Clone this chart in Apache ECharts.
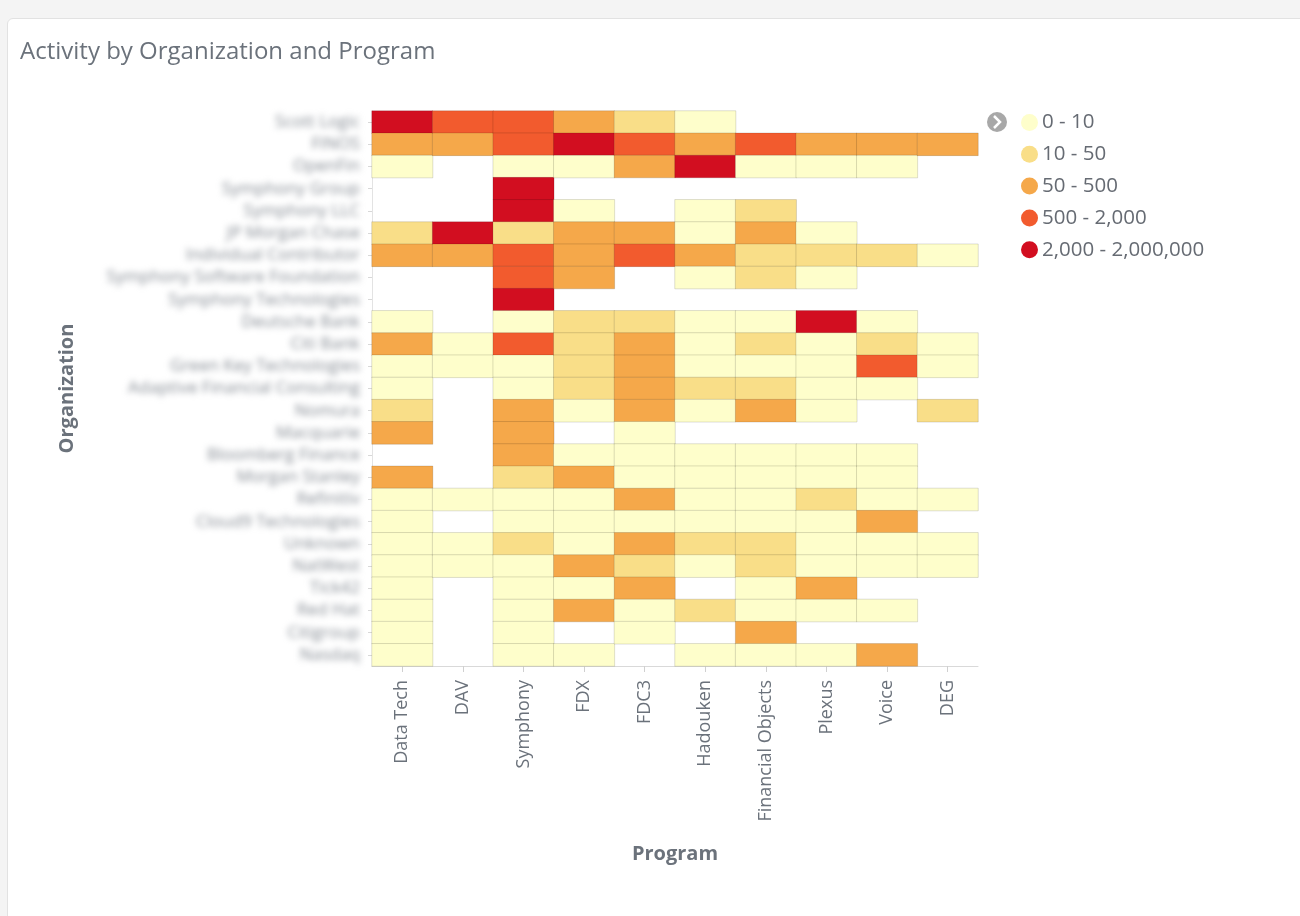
<!DOCTYPE html>
<html>
<head>
<meta charset="utf-8">
<script src="https://cdn.jsdelivr.net/npm/echarts@6/dist/echarts.min.js"></script>
<style>
  html, body { margin: 0; padding: 0; width: 1300px; height: 916px; overflow: hidden; background: #f4f4f4; }
  #card { position: absolute; left: 7px; top: 18px; width: 1320px; height: 930px; background: #fff; border: 1px solid #e2e2e2; border-radius: 6px; }
  #chart { position: absolute; left: 0; top: 0; width: 1300px; height: 916px; }
  #labels { position: absolute; left: 0; top: 0; width: 1300px; height: 916px; filter: blur(3px); pointer-events: none; }
</style>
</head>
<body>
<div id="card"></div>
<div id="chart"></div>
<div id="labels"></div>
<script>
// Categories
const programs = ['Data Tech', 'DAV', 'Symphony', 'FDX', 'FDC3', 'Hadouken', 'Financial Objects', 'Plexus', 'Voice', 'DEG'];
const organizations = [
  'Scott Logic', 'FINOS', 'OpenFin', 'Symphony Group', 'Symphony LLC', 'JP Morgan Chase',
  'Individual Contributor', 'Symphony Software Foundation', 'Symphony Technologies', 'Deutsche Bank',
  'Citi Bank', 'Green Key Technologies', 'Adaptive Financial Consulting', 'Nomura', 'Macquarie',
  'Bloomberg Finance', 'Morgan Stanley', 'Refinitiv', 'Cloud9 Technologies', 'Unknown',
  'NatWest', 'Tick42', 'Red Hat', 'Citigroup', 'Nasdaq'
];

// Activity values per program, one entry per organization (null = no activity)
const dataTech = [6200, 180, 3, null, null, 32, 260, null, null, 2, 75, 6, 4, 13, 55, null, 88, 7, 5, 8, 2, 9, 3, 1, 4];
const dav = [850, 120, null, null, null, 2600, 95, null, null, null, 1, 3, null, null, null, null, null, 2, null, 4, 6, null, null, null, null];
const symphony = [1100, 1400, 8, 4800, 12500, 22, 1800, 700, 3400, 4, 560, 7, 2, 60, 140, 65, 38, 9, 3, 30, 5, 6, 7, 3, 2];
const fdx = [240, 9800, 5, null, 6, 310, 420, 90, null, 19, 28, 44, 16, 8, null, 3, 66, 4, 6, 7, 92, 2, 78, null, 3];
const fdc3 = [25, 760, 70, null, null, 140, 900, null, null, 33, 190, 230, 120, 280, 2, 9, 5, 170, 7, 350, 42, 105, 5, 2, null];
const hadouken = [4, 210, 3100, null, 2, 7, 150, 5, null, 6, 9, 8, 12, 3, null, 4, 2, 3, 2, 17, 8, null, 20, null, 7];
const financialObjects = [null, 640, 2, null, 18, 85, 40, 12, null, 3, 21, 5, 36, 110, null, 2, 6, 8, 4, 29, 14, 4, 2, 52, 5];
const plexus = [null, 95, 6, null, null, 3, 27, 2, null, 2300, 4, 9, 7, 6, null, 5, 3, 24, 9, 6, 3, 58, 6, null, 8];
const voice = [null, 130, 4, null, null, null, 14, null, null, 5, 15, 1300, 3, null, null, 8, 1, 5, 62, 9, 2, null, 4, null, 73];
const deg = [null, 160, null, null, null, null, 1, null, null, null, 2, 6, null, 11, null, null, null, 2, null, 3, 5, null, null, null, null];

// Legend ranges
const rangeLabels = ['0 - 10', '10 - 50', '50 - 500', '500 - 2,000', '2,000 - 2,000,000'];
const rangeMins = [0, 10, 50, 500, 2000];
const rangeMaxs = [10, 50, 500, 2000, 2000000];
const rangeColors = ['#fefecb', '#f9de88', '#f5a84a', '#f25b2e', '#d20e20'];

const columns = [dataTech, dav, symphony, fdx, fdc3, hadouken, financialObjects, plexus, voice, deg];
const heatData = [];
columns.forEach((col, xi) => {
  col.forEach((v, yi) => { if (v !== null) heatData.push([xi, yi, v]); });
});

const pieces = rangeLabels.map((label, i) => ({
  gte: rangeMins[i], lt: rangeMaxs[i], label: label, color: rangeColors[i]
}));

const gray = '#6b727b';
const gridOpt = { left: 372, right: 322, top: 111, bottom: 250, containLabel: false };

const chart = echarts.init(document.getElementById('chart'), null, { renderer: 'canvas' });
chart.setOption({
  backgroundColor: 'transparent',
  animation: false,
  title: {
    text: 'Activity by Organization and Program',
    left: 15, top: 35,
    textStyle: { fontFamily: 'Open Sans', fontSize: 24, fontWeight: 'normal', color: gray }
  },
  grid: gridOpt,
  xAxis: {
    type: 'category',
    data: programs,
    name: 'Program',
    nameLocation: 'middle',
    nameGap: 178,
    nameTextStyle: { fontFamily: 'Open Sans', fontSize: 20, fontWeight: 'bold', color: gray },
    axisLine: { show: true, lineStyle: { color: '#d9d9d9' } },
    axisTick: { show: true, alignWithLabel: true, length: 6, lineStyle: { color: '#d0d0d0' } },
    axisLabel: { rotate: 90, margin: 14, fontFamily: 'Open Sans', fontSize: 18, color: gray },
    splitLine: { show: false }
  },
  yAxis: {
    type: 'category',
    data: organizations,
    inverse: true,
    name: 'Organization',
    nameLocation: 'middle',
    nameGap: 295,
    nameRotate: 90,
    nameTextStyle: { fontFamily: 'Open Sans', fontSize: 20, fontWeight: 'bold', color: gray },
    axisLine: { show: true, lineStyle: { color: '#e3e3e3' } },
    axisTick: { show: true, alignWithLabel: true, length: 4, lineStyle: { color: '#d8d8d8' } },
    axisLabel: { show: false },
    splitLine: { show: false }
  },
  visualMap: {
    type: 'piecewise',
    pieces: pieces,
    orient: 'vertical',
    inverse: true,
    align: 'left',
    left: 1006, top: 97,
    itemWidth: 17, itemHeight: 17, itemGap: 10.8, itemSymbol: 'circle',
    textGap: 4,
    textStyle: { fontFamily: 'Open Sans', fontSize: 20.5, color: '#666b73' },
    selectedMode: false
  },
  graphic: [
    { type: 'circle', shape: { cx: 997, cy: 122, r: 10 }, style: { fill: '#a8a8a8' } },
    { type: 'polyline', shape: { points: [[994, 116], [1000, 122], [994, 128]] }, style: { stroke: '#fff', lineWidth: 2.5, fill: null } }
  ],
  series: [{
    type: 'heatmap',
    data: heatData,
    itemStyle: { borderColor: 'rgba(0,0,0,0.13)', borderWidth: 1 },
    emphasis: { disabled: true }
  }]
});

// Organization labels, drawn on a blurred overlay like the reference
const labelChart = echarts.init(document.getElementById('labels'), null, { renderer: 'canvas' });
labelChart.setOption({
  backgroundColor: 'transparent',
  animation: false,
  grid: gridOpt,
  xAxis: { type: 'category', data: programs, show: false },
  yAxis: {
    type: 'category',
    data: organizations,
    inverse: true,
    axisLine: { show: false },
    axisTick: { show: false },
    axisLabel: { margin: 12, fontFamily: 'Open Sans', fontSize: 17, color: '#858b93' },
    splitLine: { show: false }
  },
  series: []
});
</script>
</body>
</html>
